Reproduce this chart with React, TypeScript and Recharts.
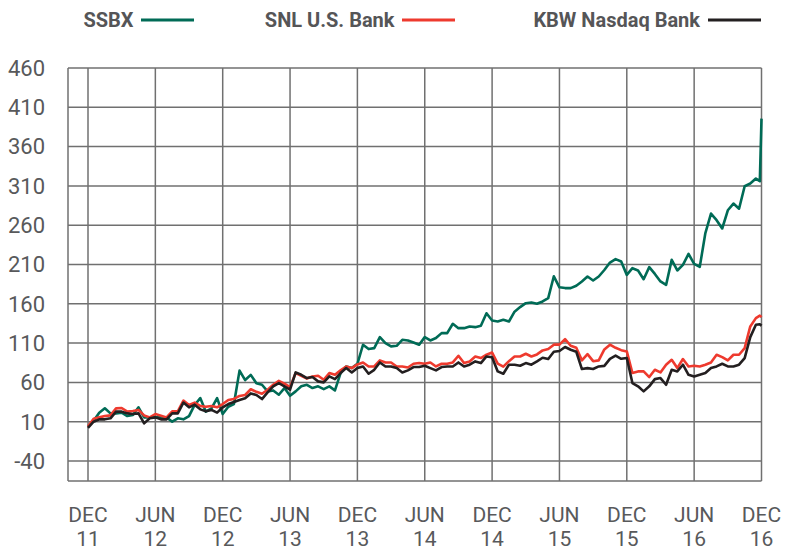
import React from "react";
import { LineChart, Line, XAxis, YAxis, CartesianGrid, Legend } from "recharts";

// months since Dec 2011
const periods = [
  0, 0.5, 1, 1.5, 2, 2.5, 3, 3.5, 4, 4.5,
  5, 5.5, 6, 6.5, 7, 7.5, 8, 8.5, 9, 9.5,
  10, 10.5, 11, 11.5, 12, 12.5, 13, 13.5, 14, 14.5,
  15, 15.5, 16, 16.5, 17, 17.5, 18, 18.5, 19, 19.5,
  20, 20.5, 21, 21.5, 22, 22.5, 23, 23.5, 24, 24.5,
  25, 25.5, 26, 26.5, 27, 27.5, 28, 28.5, 29, 29.5,
  30, 30.5, 31, 31.5, 32, 32.5, 33, 33.5, 34, 34.5,
  35, 35.5, 36, 36.5, 37, 37.5, 38, 38.5, 39, 39.5,
  40, 40.5, 41, 41.5, 42, 42.5, 43, 43.5, 44, 44.5,
  45, 45.5, 46, 46.5, 47, 47.5, 48, 48.5, 49, 49.5,
  50, 50.5, 51, 51.5, 52, 52.5, 53, 53.5, 54, 54.5,
  55, 55.5, 56, 56.5, 57, 57.5, 58, 58.5, 59, 59.5,
  59.85, 60,
];

const ssbx = [
  4, 11.3, 21.5, 27, 20.6, 20.6, 21.5, 17.2, 18.5, 28.3,
  15.5, 15.5, 15.5, 15.5, 15.5, 10, 14.3, 13, 17.2, 31.3,
  40, 22.8, 27, 40, 19.8, 29, 32.5, 75, 63, 69.6,
  59, 57, 48.6, 49.8, 44.3, 52.8, 43, 48.6, 55, 57,
  52.8, 55, 51.5, 55, 49.8, 71.9, 80.3, 78.2, 83.7, 107.9,
  102.4, 103.6, 117.6, 110, 105.8, 106.6, 114.2, 113.4, 110.8, 107.9,
  117.6, 113.4, 116.4, 122.7, 122.7, 134.6, 129, 129, 131.2, 130.3,
  132, 148, 138.8, 137.5, 139.7, 137.5, 150, 155.8, 160.8, 161.7,
  160, 163, 167.2, 195, 181, 180, 180, 183, 188.4, 194.7,
  189.7, 194.7, 203, 212.5, 216.8, 213.8, 196.8, 205.3, 202.4, 191.3,
  206.6, 198, 188.4, 184, 215.9, 202.4, 209.6, 223.5, 210.8, 207,
  250, 274.8, 266.4, 255.8, 279, 287.5, 281, 309.6, 313, 319.3,
  316, 395.6,
];

const snl = [
  4, 13.8, 15.5, 17.2, 18, 27, 27.4, 22.8, 23.6, 25,
  18, 15.5, 19.8, 17.7, 15.5, 23.2, 23.2, 36.8, 31.3, 34.3,
  30, 29, 30, 28.3, 32.5, 37.7, 39, 42.8, 44, 51.3,
  48, 45.6, 50.7, 57, 62, 58.3, 54, 71.9, 68.5, 65,
  67.6, 68.5, 63.4, 71.9, 69.7, 75.3, 80.3, 78.2, 82.9, 85.4,
  80.3, 80.3, 88, 85.4, 85.4, 80.3, 80.3, 79, 83.7, 84.6,
  83.7, 85.4, 80.3, 83.7, 83.7, 85.4, 93.9, 84.6, 86.7, 93,
  91, 95.2, 98, 84, 80, 87, 93, 93, 96.4, 93,
  95.6, 100.7, 102.4, 108, 108, 115, 106.6, 104, 88, 96,
  87, 88, 102, 108, 104, 101, 99.4, 71.9, 74, 74,
  66.8, 76.1, 72.7, 82.5, 88.8, 78.2, 89.7, 80.3, 81.2, 80.3,
  82.5, 85.4, 95.2, 92.2, 88, 95.2, 95.2, 103.6, 131.2, 141.8,
  145, 143,
];

const kbw = [
  2, 10, 13, 13, 14.3, 22.8, 22.8, 20.6, 19.8, 20.6,
  7.9, 14.3, 15.5, 13, 13, 20.6, 20.6, 34.3, 28.3, 31.7,
  25.7, 23.2, 25, 21.5, 28.3, 32.5, 35, 37.7, 39.8, 46,
  44, 38.8, 47.3, 55, 59, 55, 50.7, 72.7, 69.7, 65.5,
  66.8, 61.3, 60, 67.6, 64.2, 71.9, 78.2, 72.7, 78.2, 80.3,
  71, 76, 85.4, 80.3, 80.3, 78.2, 72.7, 75.3, 79.5, 79.5,
  81.2, 78.2, 75.3, 79.5, 80.3, 80.3, 85.4, 80.3, 82.5, 86.7,
  84.6, 93, 92, 74, 71, 82.5, 82.5, 81.2, 84.6, 82.5,
  86.7, 91.4, 89.7, 99, 100, 105, 101.5, 99, 77, 78.2,
  77, 80.3, 81, 90, 94, 90, 91, 59.2, 55, 48.6,
  55, 64.2, 65.5, 57, 76.1, 74, 82.5, 69.7, 67.6, 69.7,
  71.9, 78.2, 80.3, 83.7, 80.3, 80.3, 82.5, 90.9, 117.6, 133.3,
  134, 132,
];

const tickPositions = [0, 6, 12, 18, 24, 30, 36, 42, 48, 54, 60];
const tickMonths = ["DEC", "JUN", "DEC", "JUN", "DEC", "JUN", "DEC", "JUN", "DEC", "JUN", "DEC"];
const tickYears = ["11", "12", "12", "13", "13", "14", "14", "15", "15", "16", "16"];
const yTicks = [-40, 10, 60, 110, 160, 210, 260, 310, 360, 410, 460];

const seriesNames = ["SSBX", "SNL U.S. Bank", "KBW Nasdaq Bank"];
const seriesColors = ["#006b56", "#ee3a2e", "#231f20"];

const data = periods.map((p, i) => ({ p, ssbx: ssbx[i], snl: snl[i], kbw: kbw[i] }));

const FONT = "Roboto, 'Noto Sans', sans-serif";
const TEXT_GRAY = "#58595b";

const XTick = (props: any) => {
  const { x, y, payload } = props;
  const i = tickPositions.indexOf(payload.value);
  return (
    <g>
      <text x={x} y={y + 41} textAnchor="middle" fill={TEXT_GRAY} fontSize={21} fontFamily={FONT}>
        {tickMonths[i]}
      </text>
      <text x={x} y={y + 65} textAnchor="middle" fill={TEXT_GRAY} fontSize={21} fontFamily={FONT}>
        {tickYears[i]}
      </text>
    </g>
  );
};

const legendLayout = [
  { textEnd: 133.5, lineStart: 141, lineEnd: 194 },
  { textEnd: 394.5, lineStart: 402, lineEnd: 455 },
  { textEnd: 700, lineStart: 708, lineEnd: 761 },
];

const LegendContent = () => (
  <svg width={790} height={40} style={{ display: "block" }}>
    {seriesNames.map((n, i) => (
      <g key={n}>
        <text
          x={legendLayout[i].textEnd}
          y={27}
          textAnchor="end"
          fill="#555557"
          fontSize={20}
          fontWeight={700}
          fontFamily={FONT}
        >
          {n}
        </text>
        <line
          x1={legendLayout[i].lineStart}
          x2={legendLayout[i].lineEnd}
          y1={20}
          y2={20}
          stroke={seriesColors[i]}
          strokeWidth={3}
        />
      </g>
    ))}
  </svg>
);

export default function App() {
  return (
    <div style={{ position: "absolute", left: 0, top: 0, width: 790, height: 550, background: "#fff" }}>
      <LineChart width={790} height={550} data={data} margin={{ top: 28, right: 28.5, left: 0, bottom: 0 }}>
        <Legend
          verticalAlign="top"
          align="left"
          height={40}
          content={LegendContent}
          wrapperStyle={{ top: 0, left: 0, width: 790, height: 40 }}
        />
        <CartesianGrid stroke="#707070" strokeWidth={1.5} />
        <XAxis
          dataKey="p"
          type="number"
          domain={[0, 60]}
          ticks={tickPositions}
          interval={0}
          padding={{ left: 20, right: 0 }}
          axisLine={false}
          tickLine={false}
          tickSize={0}
          tickMargin={0}
          height={69}
          tick={<XTick />}
        />
        <YAxis
          type="number"
          domain={[-40, 460]}
          ticks={yTicks}
          interval={0}
          width={68}
          axisLine={false}
          tickLine={false}
          tickSize={0}
          tickMargin={23}
          padding={{ top: 0, bottom: 20 }}
          tick={{ fill: TEXT_GRAY, fontSize: 22, fontFamily: FONT }}
        />
        <Line type="linear" dataKey="ssbx" stroke={seriesColors[0]} strokeWidth={2.6} dot={false} isAnimationActive={false} strokeLinejoin="round" />
        <Line type="linear" dataKey="snl" stroke={seriesColors[1]} strokeWidth={2.6} dot={false} isAnimationActive={false} strokeLinejoin="round" />
        <Line type="linear" dataKey="kbw" stroke={seriesColors[2]} strokeWidth={2.6} dot={false} isAnimationActive={false} strokeLinejoin="round" />
      </LineChart>
    </div>
  );
}
